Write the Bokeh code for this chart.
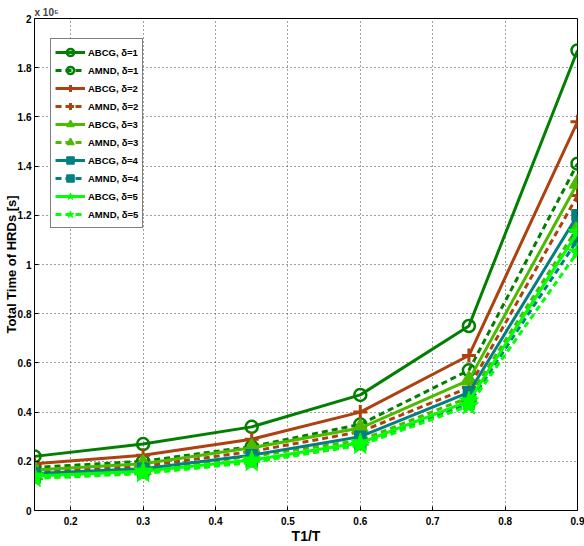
from bokeh.plotting import figure
from bokeh.models import FixedTicker, Legend, Title
from bokeh.embed import file_html
from bokeh.resources import INLINE

# ratio T1/T
t_ratio = [0.15, 0.3, 0.45, 0.6, 0.75, 0.9]

# total time of HRDs [s]
abcg_d1 = [22000, 27000, 34000, 47000, 75000, 187000]
amnd_d1 = [17500, 20000, 26000, 35000, 57000, 141000]
abcg_d2 = [19000, 22500, 29000, 40000, 63000, 158000]
amnd_d2 = [15500, 18000, 24000, 32000, 50000, 128000]
abcg_d3 = [16500, 19000, 25500, 33500, 53000, 133000]
amnd_d3 = [14500, 16500, 22000, 28500, 46000, 115000]
abcg_d4 = [15000, 17000, 22500, 30000, 48000, 120000]
amnd_d4 = [13500, 15500, 20000, 27000, 43500, 110000]
abcg_d5 = [14000, 16000, 20500, 27500, 44500, 113000]
amnd_d5 = [13000, 15000, 19500, 26500, 42500, 105000]

x_ticks = [0.2, 0.3, 0.4, 0.5, 0.6, 0.7, 0.8, 0.9]
y_ticks = [0, 20000, 40000, 60000, 80000, 100000, 120000, 140000, 160000, 180000, 200000]
y_tick_labels = ["0", "0.2", "0.4", "0.6", "0.8", "1", "1.2", "1.4", "1.6", "1.8", "2"]

FONT = "Liberation Sans"

p = figure(width=584, height=546, x_range=(0.15, 0.9), y_range=(0, 200000),
           output_backend="svg", toolbar_location=None,
           min_border_left=33, min_border_right=7, min_border_top=18, min_border_bottom=10)

p.outline_line_color = "black"
p.outline_line_width = 1
p.background_fill_color = "white"

for ax in (p.xaxis, p.yaxis):
    ax.major_tick_in = 4
    ax.major_tick_out = 0
    ax.minor_tick_in = 0
    ax.minor_tick_out = 0
    ax.axis_line_color = "black"
    ax.major_label_text_font = FONT
    ax.major_label_text_font_style = "bold"
    ax.major_label_text_font_size = "10px"
    ax.major_label_text_color = "black"
    ax.axis_label_text_font = FONT
    ax.axis_label_text_font_style = "bold"
    ax.axis_label_text_font_size = "14px"
    ax.axis_label_text_color = "black"

p.xaxis.ticker = FixedTicker(ticks=x_ticks)
p.yaxis.ticker = FixedTicker(ticks=y_ticks)
p.yaxis.major_label_overrides = dict(zip(y_ticks, y_tick_labels))
p.xaxis.axis_label = "T1/T"
p.yaxis.axis_label = "Total Time of HRDs [s]"
p.yaxis.axis_label_text_font_size = "13px"
p.xaxis.major_label_standoff = 6
p.yaxis.major_label_standoff = 3
p.xaxis.axis_label_standoff = 0
p.yaxis.axis_label_standoff = -4

p.grid.grid_line_color = "#404040"
p.grid.grid_line_dash = "1 3"
p.grid.grid_line_width = 1

C1 = "#007f00"
C2 = "#ad4110"
C3 = "#4cbb00"
C4 = "#008080"
C5 = "#00ff00"

series = [
    ("ABCG, δ=1", abcg_d1, C1, "solid", "circle"),
    ("AMND, δ=1", amnd_d1, C1, "6 4", "circle"),
    ("ABCG, δ=2", abcg_d2, C2, "solid", "cross"),
    ("AMND, δ=2", amnd_d2, C2, "6 4", "cross"),
    ("ABCG, δ=3", abcg_d3, C3, "solid", "triangle"),
    ("AMND, δ=3", amnd_d3, C3, "6 4", "triangle"),
    ("ABCG, δ=4", abcg_d4, C4, "solid", "square"),
    ("AMND, δ=4", amnd_d4, C4, "6 4", "square"),
    ("ABCG, δ=5", abcg_d5, C5, "solid", "star"),
    ("AMND, δ=5", amnd_d5, C5, "6 4", "star"),
]

items = []
for name, ys, col, dash, mk in series:
    r1 = p.line(t_ratio, ys, line_color=col, line_width=3, line_dash=dash)
    if mk == "circle":
        r2 = p.scatter(t_ratio, ys, marker="circle", size=12, fill_color=None,
                       line_color=col, line_width=2.5)
    elif mk == "cross":
        r2 = p.scatter(t_ratio, ys, marker="cross", size=14, line_color=col, line_width=3)
    elif mk == "triangle":
        r2 = p.scatter(t_ratio, ys, marker="triangle", size=16, fill_color=col,
                       line_color=col, line_width=1.5)
    elif mk == "square":
        r2 = p.scatter(t_ratio, ys, marker="square", size=11, fill_color=col,
                       line_color=col, line_width=1.5)
    else:
        r2 = p.scatter(t_ratio, ys, marker="star", size=20, fill_color=col,
                       line_color=col, line_width=1)
    items.append((name, [r1, r2]))

legend = Legend(items=items, location=(16, 282))
legend.label_text_font = FONT
legend.label_text_font_style = "bold"
legend.label_text_font_size = "9.5px"
legend.label_text_color = "black"
legend.border_line_color = "black"
legend.border_line_width = 1
legend.background_fill_alpha = 1
legend.margin = 0
legend.padding = 4
legend.spacing = 0
legend.label_height = 18
legend.glyph_height = 18
legend.glyph_width = 30
legend.label_standoff = 3
p.add_layout(legend)

p.add_layout(Title(text="x 10⁵", align="left", text_font=FONT, text_font_style="bold",
                   text_font_size="10px", standoff=1, offset=0), "above")

open("out.html", "w").write(file_html(p, INLINE))
